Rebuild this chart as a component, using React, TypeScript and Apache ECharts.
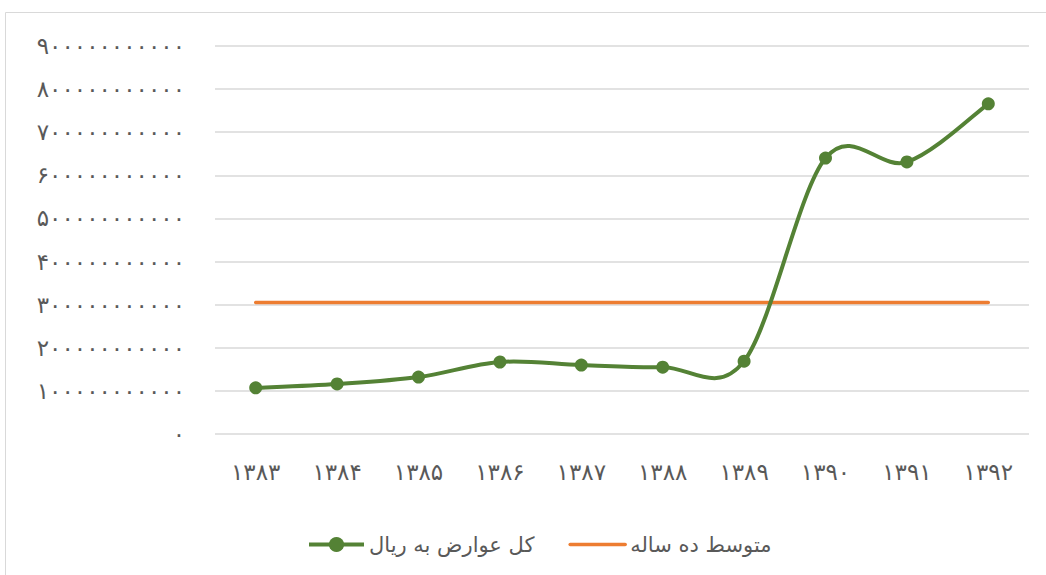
import React, { useEffect, useRef } from "react";
import * as echarts from "echarts";

const years = ["1383", "1384", "1385", "1386", "1387", "1388", "1389", "1390", "1391", "1392"];
const totalTolls = [107e9, 116e9, 132e9, 167e9, 160e9, 155e9, 169e9, 640e9, 631e9, 766e9];
const tenYearAverage = [305e9, 305e9, 305e9, 305e9, 305e9, 305e9, 305e9, 305e9, 305e9, 305e9];
const seriesNames = ["کل عوارض به ریال", "متوسط ده ساله"];

const GREEN = "#548235";
const ORANGE = "#ED7D31";

const faDigits = "۰۱۲۳۴۵۶۷۸۹";
const toFa = (s: string) => s.replace(/[0-9]/g, (d) => faDigits[Number(d)]);

export default function App() {
  const ref = useRef<HTMLDivElement>(null);
  useEffect(() => {
    const chart = echarts.init(ref.current!, null, { renderer: "svg" });
    const n = totalTolls.length;
    chart.setOption({
      animation: false,
      backgroundColor: "#ffffff",
      textStyle: { fontFamily: "DejaVu Sans" },
      graphic: [
        {
          type: "rect",
          shape: { x: 5.5, y: 12.5, width: 1100, height: 700 },
          style: { fill: "none", stroke: "#d9d9d9", lineWidth: 1 },
          silent: true,
          z: -10,
        },
      ],
      grid: { left: 215, right: 17, top: 46, bottom: 141 },
      legend: {
        bottom: 15,
        left: 302,
        itemGap: 34,
        itemWidth: 55,
        itemHeight: 19,
        textStyle: { fontSize: 21, color: "#595959", fontFamily: "DejaVu Sans" },
        data: [
          {
            name: seriesNames[0],
            lineStyle: { color: GREEN, width: 4, opacity: 1 },
            itemStyle: { color: GREEN },
          },
          {
            name: seriesNames[1],
            lineStyle: { color: ORANGE, width: 3.5, opacity: 1 },
            itemStyle: { color: ORANGE, opacity: 0 },
          },
        ],
      },
      xAxis: {
        type: "category",
        data: years,
        boundaryGap: true,
        axisLine: { show: false },
        axisTick: { show: false },
        axisLabel: {
          formatter: (v: string) => toFa(v),
          fontSize: 23,
          color: "#595959",
          margin: 26,
        },
      },
      yAxis: {
        type: "value",
        min: 0,
        max: 900e9,
        interval: 100e9,
        axisLine: { show: false },
        axisTick: { show: false },
        splitLine: { lineStyle: { color: "#d9d9d9", width: 1.5 } },
        axisLabel: {
          formatter: (v: number) => toFa(String(v)),
          fontSize: 23,
          color: "#595959",
          margin: 30,
        },
      },
      series: [
        {
          type: "custom",
          name: "curve",
          silent: true,
          z: 2,
          data: totalTolls.map((v, i) => [i, v]),
          renderItem: (params: any, api: any) => {
            const i = params.dataIndex;
            if (i >= n - 1) return null;
            const p = (k: number) => {
              const kk = Math.max(0, Math.min(n - 1, k));
              return api.coord([kk, totalTolls[kk]]);
            };
            const p0 = p(i - 1);
            const p1 = p(i);
            const p2 = p(i + 1);
            const p3 = p(i + 2);
            const t = 1 / 6;
            return {
              type: "bezierCurve",
              shape: {
                x1: p1[0],
                y1: p1[1],
                cpx1: p1[0] + (p2[0] - p0[0]) * t,
                cpy1: p1[1] + (p2[1] - p0[1]) * t,
                cpx2: p2[0] - (p3[0] - p1[0]) * t,
                cpy2: p2[1] - (p3[1] - p1[1]) * t,
                x2: p2[0],
                y2: p2[1],
              },
              style: { stroke: GREEN, lineWidth: 4, fill: null, lineCap: "round" },
            };
          },
        },
        {
          name: seriesNames[0],
          type: "line",
          data: totalTolls,
          z: 3,
          symbol: "circle",
          symbolSize: 13,
          itemStyle: { color: GREEN },
          lineStyle: { color: GREEN, width: 4, opacity: 0 },
        },
        {
          name: seriesNames[1],
          type: "line",
          data: tenYearAverage,
          z: 1,
          symbol: "none",
          itemStyle: { color: ORANGE },
          lineStyle: { color: ORANGE, width: 3.5, cap: "round" },
        },
      ],
    });
    return () => chart.dispose();
  }, []);
  return (
    <div
      ref={ref}
      style={{ position: "fixed", left: 0, top: 0, width: 1046, height: 575 }}
    />
  );
}
